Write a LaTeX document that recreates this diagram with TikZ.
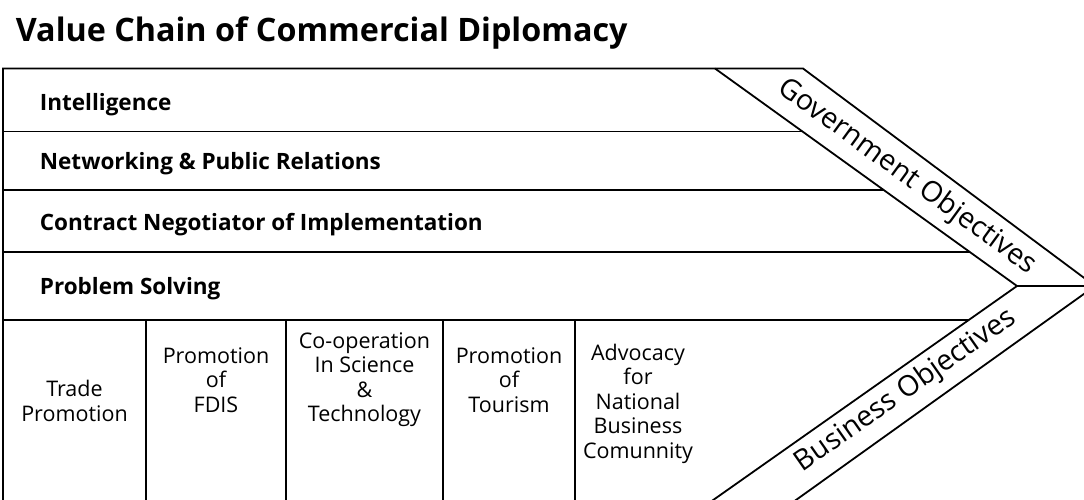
\documentclass[tikz,border=0pt]{standalone}
\usepackage{fontspec}
\setmainfont{Open Sans}
\begin{document}
\begin{tikzpicture}[x=1pt,y=-1pt,line width=1.8pt,
  rowlabel/.style={anchor=base west,inner sep=0pt,font=\bfseries\fontsize{22.5}{26}\selectfont},
  cell/.style={align=center,inner sep=0pt,font=\fontsize{21.5}{24.5}\selectfont},
  band/.style={inner sep=0pt,font=\fontsize{28.5}{32}\selectfont}]
\useasboundingbox (0,0) rectangle (1084,499);
\clip (0,0) rectangle (1084,499);

% frame of the activity table and the objectives chevron
\coordinate (tl) at (3,68.5);
\coordinate (bl) at (3,510);
\coordinate (gi) at (715,68.5);
\coordinate (go) at (803,68.5);
\coordinate (mid) at (1017,286);
\coordinate (tip) at (1095,286);
\coordinate (bi) at (699,510);
\coordinate (bo) at (782,510);

\draw (bl) -- (tl) -- (go) -- (tip) -- (bo);
\draw (gi) -- (mid) -- (bi);
\draw (mid) -- (tip);

% row separators
\draw (3,131.5) -- (802.5,131.5);
\draw (3,190) -- (883.7,190);
\draw (3,252) -- (969.8,252);
\draw (3,320) -- (968.8,320);

% column separators of the bottom row
\foreach \cx in {146,286,443,575} \draw (\cx,320) -- (\cx,510);

% title
\node[anchor=base west,inner sep=0pt,font=\bfseries\fontsize{32.3}{38}\selectfont] (title) at (15,41) {Value Chain of Commercial Diplomacy};

% activity rows
\node[rowlabel] (intel) at (39,110) {Intelligence};
\node[rowlabel] (net) at (39,169) {Networking \& Public Relations};
\node[rowlabel] (contract) at (39,230) {Contract Negotiator of Implementation};
\node[rowlabel] (problem) at (39,294) {Problem Solving};

% functions
\node[cell] (trade) at (74.5,401) {Trade\\Promotion};
\node[cell] (fdis) at (216,380) {Promotion\\of\\FDIS};
\node[cell] (sci) at (364.5,379.5) {Co-operation\\In Science\\\&\\Technology};
\node[cell] (tour) at (509,380) {Promotion\\of\\Tourism};
\node[cell] (adv) at (638,403.5) {Advocacy\\for\\National\\Business\\Comunnity};

% objectives
\node[band,rotate=-36.1] (gov) at (907,177) {Government Objectives};
\node[band,rotate=35] (bus) at (906,391) {Business Objectives};
\end{tikzpicture}
\end{document}
